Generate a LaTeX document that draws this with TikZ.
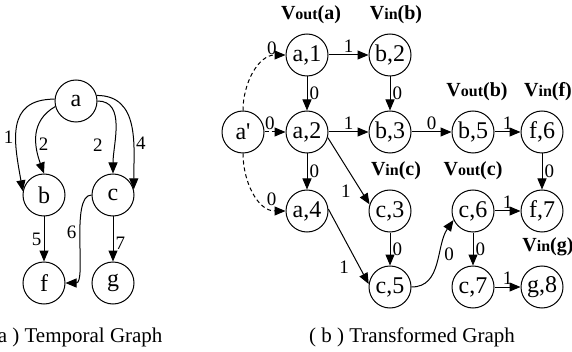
\documentclass[tikz,border=0pt]{standalone}
\usepackage{fontspec}
\setmainfont{Liberation Serif}
\usetikzlibrary{positioning, arrows.meta}

\newcommand{\vtag}[2]{\textbf{V{\fontsize{8}{8}\selectfont #1}(#2)}}

\begin{document}
\begin{tikzpicture}[
  x=0.5pt, y=-0.5pt,
  vert/.style={draw, circle, minimum size=21pt, inner sep=0pt,
               line width=0.5pt, font=\fontsize{12}{12}\selectfont},
  tag/.style={inner sep=0pt, font=\fontsize{10}{10}\selectfont},
  elab/.style={inner sep=1pt, font=\fontsize{9.5}{10}\selectfont},
  subcap/.style={font=\fontsize{10.5}{12}\selectfont},
  arr/.style={-{Triangle[length=5.5pt,width=4.5pt]}, line width=0.5pt},
  virt/.style={arr, dash pattern=on 2pt off 1.5pt},
]
\useasboundingbox (0,0) rectangle (572,352);
\node[vert] (a) at (76,101) {a};
\node[vert] (b) at (44,195) {b};
\node[vert] (c) at (113,195) {c};
\node[vert] (f) at (44,283) {f};
\node[vert] (g) at (113,283) {g};
\node[subcap] (capa) at (74,337) {( a ) Temporal Graph};
\node[vert] (ap) at (243,132) {a\textquotesingle};
\node[vert] (a1) at (307,55) {a,1};
\node[vert] (a2) at (307,132) {a,2};
\node[vert] (a4) at (307,211) {a,4};
\node[vert] (b2) at (390,55) {b,2};
\node[vert] (b3) at (390,132) {b,3};
\node[vert] (c3) at (390,211) {c,3};
\node[vert] (c5) at (390,287) {c,5};
\node[vert] (b5) at (473,132) {b,5};
\node[vert] (c6) at (473,211) {c,6};
\node[vert] (c7) at (473,287) {c,7};
\node[vert] (f6) at (542,132) {f,6};
\node[vert] (f7) at (542,211) {f,7};
\node[vert] (g8) at (542,287) {g,8};
\node[subcap] (capb) at (412,337) {( b ) Transformed Graph};
\node[tag, above=4.5pt of a1, xshift=2pt] (ta1) {\vtag{out}{a}};
\node[tag, above=4.5pt of b2, xshift=3pt] (tb2) {\vtag{in}{b}};
\node[tag, above=4.5pt of b5, xshift=2pt] (tb5) {\vtag{out}{b}};
\node[tag, above=4.5pt of f6, xshift=3pt] (tf6) {\vtag{in}{f}};
\node[tag, above=4.5pt of c3, xshift=3pt] (tc3) {\vtag{in}{c}};
\node[tag, above=4.5pt of c6] (tc6) {\vtag{out}{c}};
\node[tag, above=4.5pt of g8, xshift=3pt] (tg8) {\vtag{in}{g}};
\draw[arr] (a.175) to[out=180,in=100,looseness=1.3] node[elab,pos=0.6,left]{1} (b.170);
\draw[arr] (a.195) to[out=210,in=110,looseness=1.1] node[elab,pos=0.62,right]{2} (b.north);
\draw[arr] (a.east) to[out=0,in=90] node[elab,pos=0.7,left=5pt]{2} (c.north);
\draw[arr] (a.15) to[out=0,in=90,looseness=1.1] node[elab,pos=0.65,right]{4} (c.15);
\draw[arr] (b) -- node[elab,left]{5} (f);
\draw[arr] (c.west) to[out=180,in=0,looseness=0.6] node[elab,pos=0.45,left]{6} (f.east);
\draw[arr] (c) -- node[elab,right,pos=0.6]{7} (g);
\draw[virt] (ap.north) to[out=90,in=180] node[elab,pos=0.82,above]{0} (a1.west);
\draw[virt] (ap) -- node[elab,pos=0.25,above]{0} (a2);
\draw[virt] (ap.south) to[out=-90,in=180] node[elab,pos=0.82,above]{0} (a4.west);
\draw[arr] (a1) -- node[elab,above]{1} (b2);
\draw[arr] (a1) -- node[elab,right]{0} (a2);
\draw[arr] (b2) -- node[elab,right]{0} (b3);
\draw[arr] (a2) -- node[elab,above]{1} (b3);
\draw[arr] (b3) -- node[elab,above]{0} (b5);
\draw[arr] (b5) -- node[elab,above]{1} (f6);
\draw[arr] (f6) -- node[elab,right]{0} (f7);
\draw[arr] (a2) -- node[elab,right]{0} (a4);
\draw[arr] (a2.-15) -- node[elab,pos=0.8,left=4pt]{1} (c3.162);
\draw[arr] (a4.5) -- node[elab,pos=0.77,left=4pt]{1} (c5.172);
\draw[arr] (c3) -- node[elab,right]{0} (c5);
\draw[arr] (c5.east) to[out=0,in=235] node[elab,pos=0.6,right=1pt]{0} (c6.205);
\draw[arr] (c6) -- node[elab,above]{1} (f7);
\draw[arr] (c6) -- node[elab,right]{0} (c7);
\draw[arr] (c7) -- node[elab,above]{1} (g8);
\end{tikzpicture}
\end{document}
